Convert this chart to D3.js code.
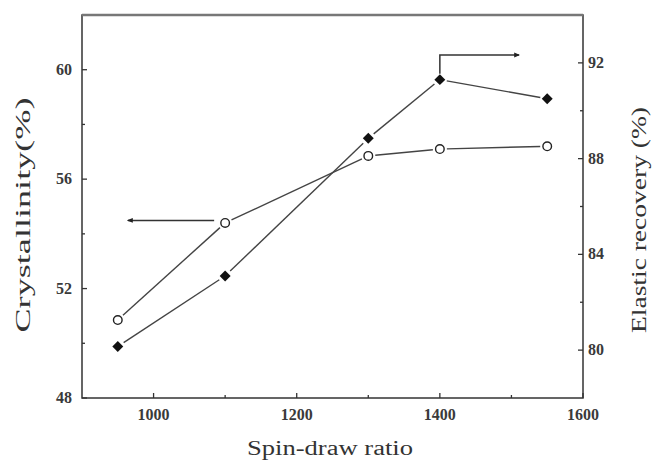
<!DOCTYPE html>
<html>
<head>
<meta charset="utf-8">
<script src="https://cdn.jsdelivr.net/npm/d3@7"></script>
<style>
  body { margin: 0; background: #fff; }
  svg text { font-family: "Liberation Serif", "DejaVu Serif", serif; }
</style>
</head>
<body>
<div id="chart"></div>
<script>
// data
const ratio = [950, 1100, 1300, 1400, 1550];
const crystallinity = [50.85, 54.4, 56.85, 57.1, 57.2];
const elastic = [80.15, 83.1, 88.85, 91.3, 90.5];

const xTicks = [1000, 1200, 1400, 1600];
const xMinor = [1100, 1300, 1500];
const leftTicks = [48, 52, 56, 60];
const leftMinor = [50, 54, 58];
const rightTicks = [80, 84, 88, 92];
const rightMinor = [82, 86, 90];

const width = 652, height = 461;
const plotL = 82, plotR = 583, plotT = 15, plotB = 398;

let svg = d3.select("#chart").append("svg")
  .attr("width", width)
  .attr("height", height);

let x = d3.scaleLinear().domain([900, 1600]).range([plotL, plotR]);
let yL = d3.scaleLinear().domain([48, 62]).range([plotB, plotT]);
let yR = d3.scaleLinear().domain([78, 94]).range([plotB, plotT]);

// arrow head
svg.append("defs").append("marker")
  .attr("id", "head")
  .attr("viewBox", "0 0 10 10")
  .attr("refX", 8).attr("refY", 5)
  .attr("markerWidth", 4).attr("markerHeight", 4)
  .attr("orient", "auto")
  .append("path")
  .attr("d", "M0,1 L10,5 L0,9 Z")
  .attr("fill", "#222");

// frame
svg.append("rect")
  .attr("x", plotL).attr("y", plotT)
  .attr("width", plotR - plotL).attr("height", plotB - plotT)
  .attr("fill", "none").attr("stroke", "#333").attr("stroke-width", 1.5);
svg.append("line")
  .attr("x1", plotL).attr("x2", plotR).attr("y1", plotT).attr("y2", plotT)
  .attr("stroke", "#777").attr("stroke-width", 2.5);

// ticks (all pointing inward)
let ticks = svg.append("g").attr("stroke", "#333").attr("stroke-width", 1.3);
xTicks.concat(xMinor).forEach(v => {
  let len = xTicks.includes(v) ? 5 : 3;
  ticks.append("line").attr("x1", x(v)).attr("x2", x(v)).attr("y1", plotB).attr("y2", plotB - len);
});
leftTicks.concat(leftMinor).forEach(v => {
  let len = leftTicks.includes(v) ? 5 : 3;
  ticks.append("line").attr("x1", plotL).attr("x2", plotL + len).attr("y1", yL(v)).attr("y2", yL(v));
});
rightTicks.concat(rightMinor).forEach(v => {
  let len = rightTicks.includes(v) ? 5 : 3;
  ticks.append("line").attr("x1", plotR).attr("x2", plotR - len).attr("y1", yR(v)).attr("y2", yR(v));
});

// tick labels
let labelStyle = sel => sel
  .attr("font-size", 16)
  .attr("font-weight", "bold")
  .attr("fill", "#3a3a3a");

svg.selectAll(".xlab").data(xTicks).enter().append("text")
  .attr("x", d => x(d)).attr("y", 420)
  .attr("text-anchor", "middle")
  .text(d => d)
  .call(labelStyle);

svg.selectAll(".llab").data(leftTicks).enter().append("text")
  .attr("x", 72).attr("y", d => yL(d) + 5)
  .attr("text-anchor", "end")
  .text(d => d)
  .call(labelStyle);

svg.selectAll(".rlab").data(rightTicks).enter().append("text")
  .attr("x", 588).attr("y", d => yR(d) + 5)
  .attr("text-anchor", "start")
  .text(d => d)
  .call(labelStyle);

// axis titles
svg.append("text")
  .attr("transform", "translate(30,215) rotate(-90)")
  .attr("text-anchor", "middle")
  .attr("font-size", 20)
  .attr("fill", "#333")
  .attr("textLength", 235).attr("lengthAdjust", "spacingAndGlyphs")
  .text("Crystallinity(%)");

svg.append("text")
  .attr("transform", "translate(646,220) rotate(-90)")
  .attr("text-anchor", "middle")
  .attr("font-size", 20)
  .attr("fill", "#333")
  .attr("textLength", 226).attr("lengthAdjust", "spacingAndGlyphs")
  .text("Elastic recovery (%)");

svg.append("text")
  .attr("x", 330).attr("y", 455)
  .attr("text-anchor", "middle")
  .attr("font-size", 20)
  .attr("fill", "#333")
  .attr("textLength", 166).attr("lengthAdjust", "spacingAndGlyphs")
  .text("Spin-draw ratio");

// connecting segments with a small gap at each marker
function drawSeries(vals, y) {
  let pts = ratio.map((r, i) => [x(r), y(vals[i])]);
  let gap = 7;
  for (let i = 0; i < pts.length - 1; i++) {
    let [x1, y1] = pts[i], [x2, y2] = pts[i + 1];
    let dx = x2 - x1, dy = y2 - y1, len = Math.hypot(dx, dy);
    let ux = dx / len, uy = dy / len;
    svg.append("line")
      .attr("x1", x1 + ux * gap).attr("y1", y1 + uy * gap)
      .attr("x2", x2 - ux * gap).attr("y2", y2 - uy * gap)
      .attr("stroke", "#444").attr("stroke-width", 1.4);
  }
}
drawSeries(crystallinity, yL);
drawSeries(elastic, yR);

// markers
svg.selectAll(".open").data(ratio).enter().append("circle")
  .attr("cx", d => x(d))
  .attr("cy", (d, i) => yL(crystallinity[i]))
  .attr("r", 4.3)
  .attr("fill", "#fff")
  .attr("stroke", "#222")
  .attr("stroke-width", 1.4);

svg.selectAll(".filled").data(ratio).enter().append("path")
  .attr("d", d3.symbol(d3.symbolSquare, 60))
  .attr("transform", (d, i) => "translate(" + x(d) + "," + yR(elastic[i]) + ") rotate(45)")
  .attr("fill", "#111");

// arrows pointing to the matching axis
svg.append("path")
  .attr("d", "M" + (x(1100) - 11) + "," + (yL(crystallinity[1]) - 2.5) + " H" + 128)
  .attr("fill", "none").attr("stroke", "#333").attr("stroke-width", 1.5)
  .attr("marker-end", "url(#head)");

svg.append("path")
  .attr("d", "M" + x(1400) + "," + (yR(elastic[3]) - 6) + " V55 H519")
  .attr("fill", "none").attr("stroke", "#333").attr("stroke-width", 1.5)
  .attr("marker-end", "url(#head)");
</script>
</body>
</html>
